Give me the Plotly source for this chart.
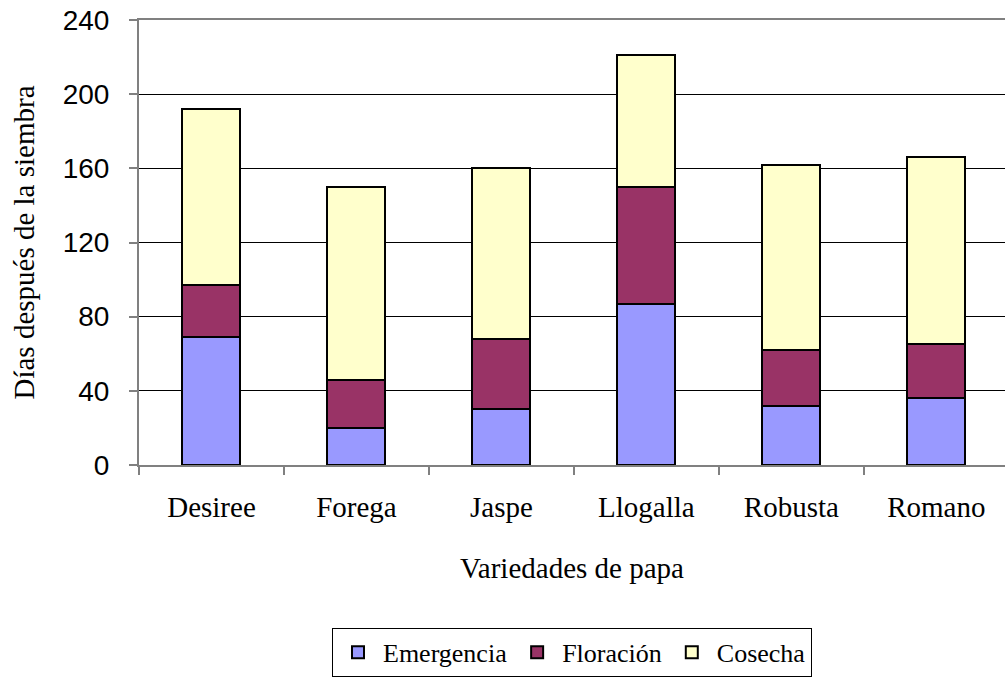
import plotly.graph_objects as go

# Potato varieties and the days after sowing for each crop stage (stacked)
variedades = ["Desiree", "Forega", "Jaspe", "Llogalla", "Robusta", "Romano"]
emergencia = [69, 20, 30, 87, 32, 36]
floracion = [28, 26, 38, 63, 30, 29]
cosecha = [95, 104, 92, 71, 100, 101]

y_ticks = [0, 40, 80, 120, 160, 200, 240]

serif = "Liberation Serif"
sans = "Liberation Sans"

fig = go.Figure()
for name, vals, color in [
    ("Emergencia", emergencia, "#9999FF"),
    ("Floración", floracion, "#993366"),
    ("Cosecha", cosecha, "#FFFFCC"),
]:
    fig.add_trace(go.Bar(
        name=name, x=variedades, y=vals,
        marker=dict(color=color, line=dict(color="black", width=2)),
    ))

fig.update_layout(
    barmode="stack",
    bargap=0.6,
    width=1005, height=686,
    margin=dict(l=139, r=0, t=20, b=221),
    paper_bgcolor="white",
    plot_bgcolor="white",
    font=dict(family=serif, color="black"),
    showlegend=True,
    legend=dict(
        orientation="h",
        x=0.5, xanchor="center",
        y=-0.366, yanchor="top",
        bordercolor="black", borderwidth=1,
        itemwidth=40,
        font=dict(family=serif, size=26, color="black"),
        traceorder="normal",
    ),
    xaxis=dict(
        type="category",
        range=[-0.5, 5.474],
        tickson="boundaries",
        showline=True, linecolor="#808080", linewidth=2, mirror=True,
        ticks="outside", ticklen=8, tickcolor="#808080", tickwidth=1.5,
        showgrid=False,
        tickfont=dict(family=serif, size=29, color="black"),
        ticklabelstandoff=15,
        title=dict(text="Variedades de papa", font=dict(family=serif, size=29, color="black"), standoff=36),
    ),
    yaxis=dict(
        range=[0, 240],
        tickvals=y_ticks,
        showline=True, linecolor="#808080", linewidth=2,
        ticks="outside", ticklen=8, tickcolor="#808080", tickwidth=1.5,
        showgrid=True, gridcolor="black", gridwidth=1,
        tickfont=dict(family=sans, size=28, color="black"),
        ticklabelstandoff=14,
        zeroline=False,
        title=dict(text="Días después de la siembra", font=dict(family=serif, size=29, color="black"), standoff=20),
    ),
)

fig.write_html("out.html")
